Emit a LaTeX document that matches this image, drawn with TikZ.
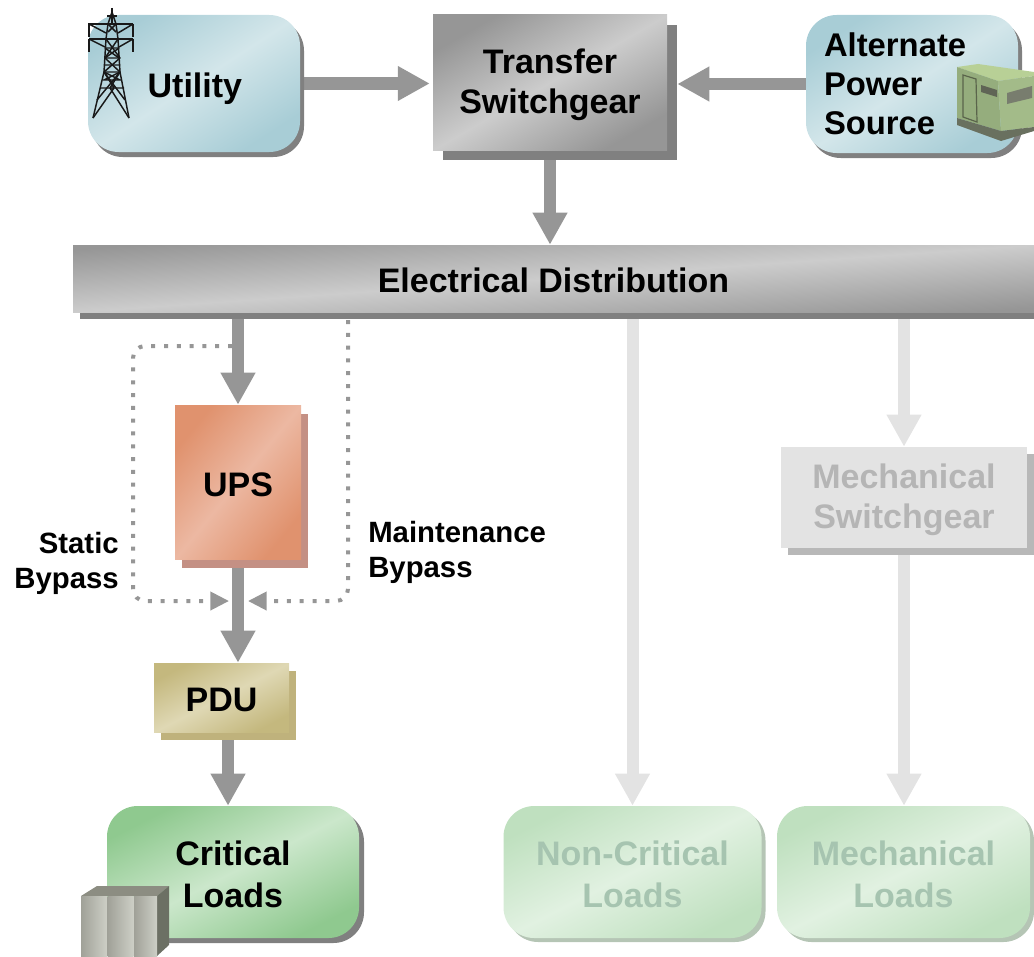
\documentclass[tikz,border=0pt]{standalone}
\usepackage{fontspec}
\setmainfont{Liberation Sans}
\usetikzlibrary{arrows.meta,shadows,backgrounds,calc}
\definecolor{flowgrey}{HTML}{969696}
\definecolor{fadegrey}{HTML}{E3E3E3}
\definecolor{tealdark}{HTML}{A8CDD6}
\definecolor{teallight}{HTML}{D3E6EA}
\definecolor{greendark}{HTML}{8FC98F}
\definecolor{greenlight}{HTML}{CBE7CB}
\definecolor{fadedark}{HTML}{BFE0BF}
\definecolor{fadelight}{HTML}{E1F1E1}
\definecolor{upsdark}{HTML}{E0926E}
\definecolor{upslight}{HTML}{ECB8A2}
\definecolor{upsshadow}{HTML}{C49084}
\definecolor{pdudark}{HTML}{C4B87E}
\definecolor{pdulight}{HTML}{DFD8B4}
\definecolor{pdushadow}{HTML}{BFB27C}
\definecolor{fadeshadow}{HTML}{B5C5B5}
\definecolor{faintgreen}{HTML}{A6C4B0}
\definecolor{gentop}{HTML}{B8D096}
\definecolor{genfront}{HTML}{95AD7D}
\definecolor{genside}{HTML}{A3BB89}
\definecolor{genbase}{HTML}{69705F}
\definecolor{gendoor}{HTML}{5A644B}
\definecolor{genslat}{HTML}{5F6455}
\definecolor{genhatch}{HTML}{787D6E}
\definecolor{srvtop}{HTML}{8C8D82}
\definecolor{srvside}{HTML}{6C7064}
\definecolor{srvdark}{HTML}{A0A198}
\definecolor{srvlight}{HTML}{CDCFC6}
\newcommand\tp{\rule{0pt}{21.8pt}}
\newcommand\tpu{\rule{0pt}{26pt}}
\tikzset{
  labeltext/.style={font=\fontsize{25.5pt}{30pt}\selectfont\bfseries,align=center,text=black},
  altfont/.style={font=\fontsize{24.6pt}{29.3pt}\selectfont\bfseries},
  smalltext/.style={font=\fontsize{22pt}{26.3pt}\selectfont\bfseries,inner sep=0pt},
  faintsw/.style={text=black!29},
  faintgr/.style={text=faintgreen},
  sized/.style n args={2}{minimum width=#1*.75pt,minimum height=#2*.75pt,inner sep=0pt},
  shad/.style args={#1 #2 #3}{general shadow={shadow xshift=#1*.75pt,shadow yshift=-#2*.75pt,fill=#3}},
  teal/.style={rounded corners=23pt,left color=tealdark,right color=tealdark,middle color=teallight,shading angle=33,shad=4 5 black!50},
  gbox/.style={rounded corners=23pt,left color=greendark,right color=greendark,middle color=greenlight,shading angle=27,shad=5 5 black!50},
  gfade/.style={rounded corners=23pt,left color=fadedark,right color=fadedark,middle color=fadelight,shading angle=27,shad=4 4 fadeshadow},
  flow/.style={draw=flowgrey,line width=9pt,-{Triangle[width=24.5pt,length=24pt]}},
  fadeflow/.style={draw=fadegrey,line width=9pt,-{Triangle[width=24.5pt,length=24pt]}},
  bypass/.style={draw=flowgrey,line width=3pt,dash pattern=on 3pt off 6.6pt,rounded corners=9pt,-{Triangle[width=13.5pt,length=14pt]}},
  towerline/.style={draw=black!90,line width=1.1pt,line join=round},
}
\begin{document}
\begin{tikzpicture}[x=.75pt,y=-.75pt]
\useasboundingbox (0,0) rectangle (1034,956);
\clip (0,0) rectangle (1034,956);
% boxes
\node[sized={212}{137},teal,labeltext,align=left,text width=130*.75pt] (utility) at (194,83.5) {\tpu\hspace*{14pt}Utility};
\node[sized={234}{135},left color=flowgrey,right color=flowgrey,middle color=black!20,shading angle=30,shad=10 10 black!50,labeltext] (transfer) at (550,82.5) {\tp Transfer\\Switchgear};
\node[sized={212}{138},teal,labeltext,altfont,align=left,text width=176*.75pt] (alternate) at (912,84) {Alternate\\Power\\Source};
\node[sized={961}{67},left color=flowgrey,right color=flowgrey,middle color=black!20,shading angle=4,shad=7 7 black!50,labeltext] (dist) at (553.5,278.5) {\tp Electrical Distribution};
\node[sized={126}{154},left color=upsdark,right color=upsdark,middle color=upslight,shading angle=50.7,shad=7 9 upsshadow,labeltext] (ups) at (238,482) {\tp UPS};
\node[sized={135}{69},left color=pdudark,right color=pdudark,middle color=pdulight,shading angle=27,shad=7 8 pdushadow,labeltext] (pdu) at (221.5,697.5) {\tp PDU};
\node[sized={246}{101},fill=fadegrey,shad=7 7 black!28,labeltext,faintsw] (mechsw) at (904,497.5) {\tp Mechanical\\Switchgear};
\node[sized={252}{132},gbox,labeltext] (critical) at (233,872) {\tp Critical\\[1pt]Loads};
\node[sized={258}{132},gfade,labeltext,faintgr] (noncritical) at (632.5,872) {\tp Non-Critical\\[1pt]Loads};
\node[sized={253}{132},gfade,labeltext,faintgr] (mechloads) at (903.5,872) {\tp Mechanical\\[1pt]Loads};
% labels
\node[smalltext,align=right,anchor=east] (static) at (119,563) {Static\\Bypass};
\node[smalltext,align=left,anchor=west] (maint) at (368,552) {Maintenance\\Bypass};
% free ends of the bypass lines
\coordinate (sbstart) at (232,346);
\coordinate (sbcorner) at (133,601);
\coordinate (sbend) at (229,601);
\coordinate (mbstart) at (348,320);
\coordinate (mbend) at (248,601);
\begin{scope}[on background layer]
  \draw[flow] (utility.east) -- ([xshift=-2.2pt]utility.east -| transfer.west);
  \draw[flow] (alternate.west) -- ([xshift=7.5pt]alternate.west -| transfer.east);
  \draw[flow] (transfer.south) -- (transfer.south |- dist.north);
  \draw[flow] (dist.south -| ups.north) -- (ups.north);
  \draw[flow] (ups.south) -- (ups.south |- pdu.north);
  \draw[flow] ([xshift=4.9pt]pdu.south) -- ([xshift=4.9pt]pdu.south |- critical.north);
  \draw[fadeflow] (dist.south -| noncritical.north) -- (noncritical.north);
  \draw[fadeflow] (dist.south -| mechsw.north) -- (mechsw.north);
  \draw[fadeflow] (mechsw.south) -- (mechsw.south |- mechloads.north);
  \draw[bypass] (sbstart) -| (sbcorner) -- (sbend);
  \draw[bypass] (mbstart) |- (mbend);
\end{scope}
% tower
\begin{scope}[towerline]
  \draw (112,8) -- (112,24);
  \draw (88,24) -- (133,24) (89,39) -- (133,39);
  \draw (89,24) -- (89,37) (133,24) -- (133,37) (89,39) -- (89,52) (133,39) -- (133,52);
  \draw (89,24) -- (106,33) (133,24) -- (118,33) (89,39) -- (105,47) (133,39) -- (119,47);
  \draw (107,16) -- (117,16);
  \draw (93,118) -- (104,72) -- (106,39) -- (108,24) -- (112,12) -- (116,24) -- (118,39) -- (120,72) -- (129,118);
  \draw (106,39) -- (120,58) -- (104,72) -- (125,100) (118,39) -- (105,58) -- (120,72) -- (97,100);
  \draw (105,48) -- (119,48) (105,58) -- (119,58) (104,72) -- (120,72) (108,32) -- (116,24) (116,32) -- (108,24);
  \draw (100,88) -- (124,88) (120,72) -- (110,88) -- (129,118) (104,72) -- (114,88) -- (93,118);
  \draw (105,48) -- (119,58) (119,48) -- (105,58) (104,65) -- (120,65) (103,80) -- (121,80) (104,72) -- (120,80) (120,72) -- (104,80);
\end{scope}
% generator
\fill[gentop] (957,67) -- (978,64) -- (1034,72) -- (1034,76) -- (998,81) -- cycle;
\fill[genfront] (957,67) -- (998,81) -- (1001,131) -- (957,118) -- cycle;
\fill[genside] (998,81) -- (1034,76) -- (1034,127) -- (1001,131) -- cycle;
\fill[genbase] (957,118) -- (1001,131) -- (1034,127) -- (1034,131) -- (1001,141) -- (957,125) -- cycle;
\draw[gendoor,line width=.9pt] (963,75) -- (976,79) -- (977,122) -- (963,117) -- cycle;
\fill[genslat] (981,85) -- (997,90) -- (997,97) -- (981,92) -- cycle;
\fill[genhatch] (1007,93) -- (1032,86) -- (1032,98) -- (1007,104) -- cycle;
% servers
\fill[srvtop] (81,896) -- (97,886) -- (169,886) -- (157,896) -- cycle;
\fill[srvside] (157,896) -- (169,886) -- (169,945) -- (157,956) -- cycle;
\shade[left color=srvdark,right color=srvlight] (81,896) rectangle (107,956);
\shade[left color=srvdark,right color=srvlight] (107.5,896) rectangle (133.5,956);
\shade[left color=srvdark,right color=srvlight] (134,896) rectangle (157,956);
\end{tikzpicture}
\end{document}
